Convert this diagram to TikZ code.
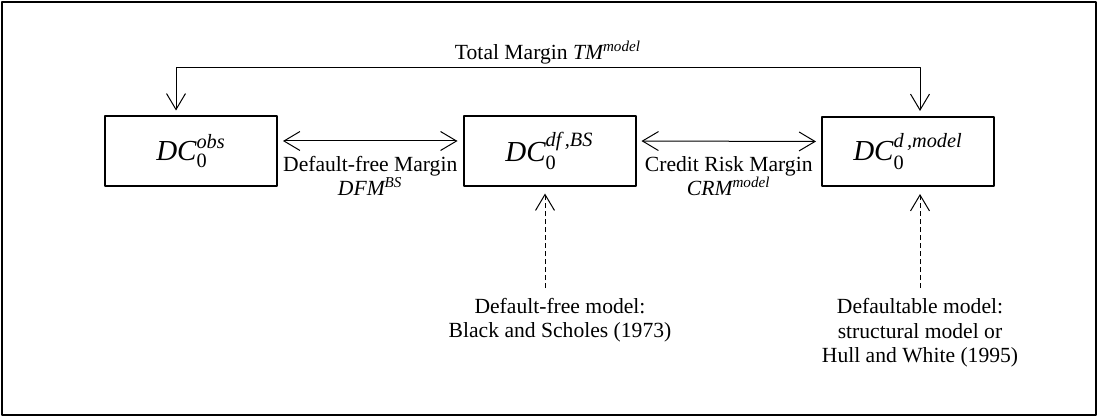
\documentclass[tikz,border=0pt]{standalone}
\usepackage{amsmath}
\usepackage{fontspec}
\setmainfont{Liberation Serif}
\usetikzlibrary{arrows.meta}

\newcommand{\itx}[1]{\text{\itshape #1}}

\begin{document}
\begin{tikzpicture}[line cap=round, line join=round, x=0.5pt, y=-0.5pt,
    font=\fontsize{10.8}{12}\selectfont,
    dcbox/.style={draw, line width=1pt, minimum width=86pt, minimum height=34.5pt, inner sep=0pt, font=\fontsize{14.5}{16}\selectfont},
    note/.style={align=center, font=\fontsize{10.8}{12.3}\selectfont},
    margin/.style={line width=0.5pt, {Straight Barb[length=8pt, width=9.5pt]}-{Straight Barb[length=8pt, width=9.5pt]}, shorten <=2.5pt, shorten >=2.5pt},
    modlink/.style={line width=0.5pt, line cap=butt, dash pattern=on 2.5pt off 1.5pt, -{Straight Barb[length=8pt, width=9.5pt]}, shorten >=3.5pt}]

    \useasboundingbox (0,0) rectangle (1098,417);
    \draw[line width=0.8pt] (2,2) rectangle (1096,415);

    \node[dcbox] (dcobs) at (191,151) {$\itx{DC}_{\text{0}}^{\itx{obs}}$};
    \node[dcbox] (dcdf) at (549.5,151) {$\itx{DC}_{\text{0}}^{\itx{df\,,BS}}$};
    \node[dcbox] (dcmod) at (908,151.5) {$\itx{DC}_{\text{0}}^{\itx{d\,,model}}$};

    \draw[margin] ([xshift=-7.5pt]dcobs.north) -- ++(0,-48) -| node[pos=0.25, above, inner sep=1.5pt] {Total Margin $\itx{TM}^{\itx{model}}$} ([xshift=6pt]dcmod.north);

    \draw[margin] ([yshift=5pt]dcobs.east) -- node[midway, below=4pt, align=center] {Default-free Margin\\$\itx{DFM}^{\itx{BS}}$} ([yshift=5pt]dcdf.west);
    \draw[margin] ([yshift=5pt]dcdf.east) -- node[midway, below=4pt, align=center] {Credit Risk Margin\\$\itx{CRM}^{\itx{model}}$} ([yshift=5pt]dcmod.west);

    \node[note] (bsnote) at (560,320) {Default-free model:\\Black and Scholes (1973)};
    \node[note] (hwnote) at (920,333) {Defaultable model:\\structural model or\\Hull and White (1995)};

    \coordinate (bsfoot) at (545,288);
    \coordinate (hwfoot) at (920,288);
    \draw[modlink] (bsfoot) -- (bsfoot |- dcdf.south);
    \draw[modlink] (hwfoot) -- (hwfoot |- dcmod.south);

\end{tikzpicture}
\end{document}
